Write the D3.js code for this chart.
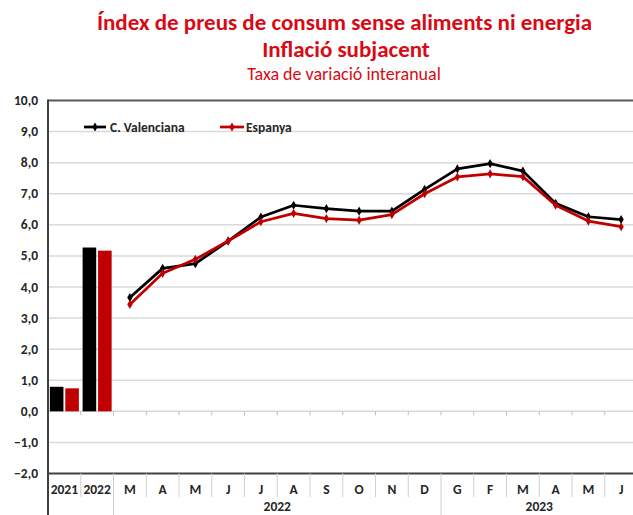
<!DOCTYPE html>
<html><head><meta charset="utf-8">
<script src="https://cdn.jsdelivr.net/npm/d3@7"></script>
<style>body{margin:0;background:#fff}svg{display:block}</style>
</head><body><svg id="c" width="633" height="515"></svg>
<script>
const categories = ["2021","2022","M","A","M","J","J","A","S","O","N","D","G","F","M","A","M","J"];
const yearGroups = [{label:"2022", from:2, to:11},{label:"2023", from:12, to:17}];
const barCats = [0,1];
const cvBars = [0.79, 5.27];
const esBars = [0.74, 5.17];
const cvLine = [3.66,4.6,4.75,5.48,6.25,6.63,6.52,6.44,6.44,7.14,7.8,7.97,7.73,6.69,6.26,6.17];
const esLine = [3.44,4.44,4.89,5.48,6.1,6.37,6.2,6.15,6.33,7.0,7.54,7.64,7.55,6.63,6.12,5.94];
const yTicks = [-2,-1,0,1,2,3,4,5,6,7,8,9,10];
const seriesNames = ["C. Valenciana","Espanya"];
const titles = ["Índex de preus de consum sense aliments ni energia","Inflació subjacent","Taxa de variació interanual"];

const svg = d3.select("#c");
const L=48, R=637.5, T=100.5, B=473.5;
const x = d3.scaleBand().domain(d3.range(categories.length)).range([L,R]);
const y = d3.scaleLinear().domain([-2,10]).range([B,T]);
const fmt = v => d3.format(".1f")(v).replace(".",",");
const RED="#c00000", TRED="#d80a14", FONT="Carlito, Calibri, Lato, sans-serif", LBL=13.5;

// titles
svg.append("text").attr("x",344.5).attr("y",30).attr("text-anchor","middle").attr("font-family",FONT)
  .attr("font-weight","bold").attr("font-size",23).attr("fill",TRED).text(titles[0]);
svg.append("text").attr("x",346).attr("y",57).attr("text-anchor","middle").attr("font-family",FONT)
  .attr("font-weight","bold").attr("font-size",23).attr("fill",TRED).text(titles[1]);
svg.append("text").attr("x",344).attr("y",80).attr("text-anchor","middle").attr("font-family",FONT)
  .attr("font-size",18).attr("fill",TRED).text(titles[2]);

// gridlines
svg.append("g").selectAll("line").data(yTicks.filter(d=>d>-2&&d<10)).join("line")
  .attr("x1",L).attr("x2",R).attr("y1",d=>y(d)).attr("y2",d=>y(d))
  .attr("stroke","#d9d9d9").attr("stroke-width",1.5);
// frame top and bottom and left
svg.append("line").attr("x1",L).attr("x2",R).attr("y1",y(10)).attr("y2",y(10)).attr("stroke","#595959").attr("stroke-width",2);
svg.append("line").attr("x1",L).attr("x2",R).attr("y1",y(-2)).attr("y2",y(-2)).attr("stroke","#404040").attr("stroke-width",2);
svg.append("line").attr("x1",L).attr("x2",L).attr("y1",y(10)-1).attr("y2",515).attr("stroke","#404040").attr("stroke-width",2);

// tick marks on zero line
svg.append("g").selectAll("line").data(d3.range(1,categories.length)).join("line")
  .attr("x1",d=>x(d)).attr("x2",d=>x(d)).attr("y1",y(0)).attr("y2",y(0)+4)
  .attr("stroke","#bfbfbf").attr("stroke-width",1);

// y labels
svg.append("g").selectAll("text").data(yTicks).join("text")
  .attr("x",38).attr("y",d=>y(d)+4.5).attr("text-anchor","end").attr("font-family",FONT)
  .attr("font-weight","bold").attr("font-size",LBL).attr("fill","#262626").text(fmt);

// x category separators
svg.append("g").selectAll("line").data(d3.range(1,categories.length)).join("line")
  .attr("x1",d=>x(d)).attr("x2",d=>x(d)).attr("y1",B).attr("y2",d=> (d===2||d===12)?515:497)
  .attr("stroke","#d0d0d0").attr("stroke-width",1);
svg.append("g").selectAll("text").data(categories).join("text")
  .attr("x",(d,i)=>x(i)+x.bandwidth()/2).attr("y",493.5).attr("text-anchor","middle")
  .attr("font-family",FONT).attr("font-weight","bold").attr("font-size",LBL).attr("fill","#262626").text(d=>d);
svg.append("g").selectAll("text").data(yearGroups).join("text")
  .attr("x",d=>(x(d.from)+x(d.to)+x.bandwidth())/2).attr("y",511).attr("text-anchor","middle")
  .attr("font-family",FONT).attr("font-weight","bold").attr("font-size",LBL).attr("fill","#262626").text(d=>d.label);

// bars
const xb = d3.scaleBand().domain([0,1]).range([0,x.bandwidth()]).paddingInner(0.12).paddingOuter(0.12);
[cvBars,esBars].forEach((vals,s)=>{
  svg.append("g").selectAll("rect").data(vals).join("rect")
    .attr("x",(d,i)=>x(barCats[i])+xb(s)).attr("width",xb.bandwidth())
    .attr("y",d=>y(d)).attr("height",d=>y(0)-y(d)).attr("fill",s===0?"#000":RED);
});

// lines
const diamond = d3.symbol().type(d3.symbolDiamond).size(24);
[[cvLine,"#000"],[esLine,RED]].forEach(([vals,col])=>{
  const pts = vals.map((v,i)=>[x(i+2)+x.bandwidth()/2, y(v)]);
  svg.append("path").attr("d",d3.line()(pts)).attr("fill","none").attr("stroke",col).attr("stroke-width",2.75).attr("stroke-linejoin","round");
  svg.append("g").selectAll("path").data(pts).join("path").attr("transform",p=>`translate(${p[0]},${p[1]})`)
    .attr("d",diamond).attr("fill",col);
});

// legend
const leg = [[84,106,110,"#000"],[220,244,246,RED]];
leg.forEach(([x1,x2,tx,col],i)=>{
  svg.append("line").attr("x1",x1).attr("x2",x2).attr("y1",127).attr("y2",127).attr("stroke",col).attr("stroke-width",2.75);
  svg.append("path").attr("transform",`translate(${(x1+x2)/2},127)`).attr("d",diamond).attr("fill",col);
  svg.append("text").attr("x",tx).attr("y",131.5).attr("font-family",FONT).attr("font-weight","bold")
    .attr("font-size",LBL).attr("fill","#262626").text(seriesNames[i]);
});
</script></body></html>
